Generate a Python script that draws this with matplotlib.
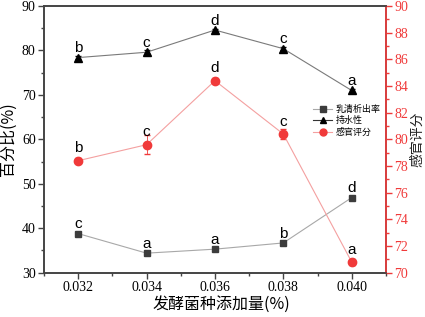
import matplotlib
matplotlib.use("Agg")
import matplotlib.pyplot as plt
from matplotlib.ticker import MultipleLocator
from matplotlib.lines import Line2D

plt.rcParams['font.family'] = 'Liberation Serif'

# data
dose = [0.032, 0.034, 0.036, 0.038, 0.040]
whey = [38.8, 34.4, 35.3, 36.7, 46.9]
whey_err = [0.4, 0.4, 0.3, 0.3, 0.4]
whey_sig = ['c', 'a', 'a', 'b', 'd']
water = [78.4, 79.6, 84.6, 80.4, 71.0]
water_err = [0.4, 0.5, 0.3, 0.3, 0.4]
water_sig = ['b', 'c', 'd', 'c', 'a']
sensory = [78.4, 79.6, 84.4, 80.4, 70.8]
sensory_err = [0.2, 0.7, 0.2, 0.35, 0.25]
sensory_sig = ['b', 'c', 'd', 'c', 'a']
names = ['乳清析出率', '持水性', '感官评分']

red = '#f03a3a'
cjk = ['Noto Sans CJK SC', 'Liberation Serif']

fig = plt.figure(figsize=(4.25, 3.17), dpi=100)
ax = fig.add_axes([0.1035, 0.1397, 0.8045, 0.8413])
ax2 = ax.twinx()

ax.errorbar(dose, whey, yerr=whey_err, color='#a8a8a8', lw=0.8, marker='s', ms=5,
            mfc='#3c3c3c', mec='#3c3c3c', ecolor='#3c3c3c', elinewidth=0.6, capsize=2)
ax.errorbar(dose, water, yerr=water_err, color='#7a7a7a', lw=0.8, marker='^', ms=6,
            mfc='black', mec='black', ecolor='black', elinewidth=0.6, capsize=2)
ax2.errorbar(dose, sensory, yerr=sensory_err, color='#f4a0a0', lw=0.8, marker='o', ms=6,
             mfc=red, mec=red, ecolor=red, elinewidth=0.6, capsize=2)

for x, y, s in zip(dose, whey, whey_sig):
    ax.text(x, y + 0.5, s, ha='center', va='bottom', fontsize=11, family='Liberation Sans')
for x, y, s in zip(dose, water, water_sig):
    ax.text(x, y + 0.5, s, ha='center', va='bottom', fontsize=11, family='Liberation Sans')
for x, y, s in zip(dose, sensory, sensory_sig):
    ax2.text(x, y + 0.4, s, ha='center', va='bottom', fontsize=11, family='Liberation Sans')

ax.set_xlim(0.031, 0.041)
ax.set_ylim(30, 90)
ax2.set_ylim(70, 90)
ax.set_xticks(dose)
ax.set_xticklabels(['0.032', '0.034', '0.036', '0.038', '0.040'])
ax.xaxis.set_minor_locator(MultipleLocator(0.001))
ax.yaxis.set_major_locator(MultipleLocator(10))
ax.yaxis.set_minor_locator(MultipleLocator(5))
ax2.yaxis.set_major_locator(MultipleLocator(2))
ax2.yaxis.set_minor_locator(MultipleLocator(1))

for a in (ax, ax2):
    a.tick_params(which='both', direction='out', labelsize=10, pad=2)
    a.tick_params(which='major', length=4, width=1)
    a.tick_params(which='minor', length=2.5, width=1)
    for sp in a.spines.values():
        sp.set_linewidth(1.2)
        sp.set_color('#444444')
ax2.spines['right'].set_color(red)
ax2.tick_params(axis='y', which='both', colors=red, labelcolor=red)
ax.tick_params(axis='both', which='both', colors='#444444', labelcolor='black')

ax.set_xlabel('发酵菌种添加量(%)', fontsize=11.5, family=cjk)
ax.xaxis.set_label_coords(0.52, -0.085)
ax.set_ylabel('百分比(%)', fontsize=11.5, family=cjk)
ax.yaxis.set_label_coords(-0.08, 0.5)
ax2.set_ylabel('感官评分', fontsize=10, color='#222222', rotation=90, family=cjk)
ax2.yaxis.set_label_coords(1.07, 0.5)

handles = [
    Line2D([], [], color='#a8a8a8', lw=0.8, marker='s', ms=4, mfc='#3c3c3c', mec='#3c3c3c'),
    Line2D([], [], color='#333333', lw=0.8, marker='^', ms=5, mfc='black', mec='black'),
    Line2D([], [], color='#f4a0a0', lw=0.8, marker='o', ms=5, mfc=red, mec=red),
]


def add_legend(size):
    return ax.legend(handles, names, loc='upper left', bbox_to_anchor=(0.785, 0.632),
                     frameon=False, handlelength=2.1, labelspacing=0.25, borderpad=0.1,
                     handletextpad=0.4, borderaxespad=0, prop={'family': cjk, 'size': size})


# size the legend so its first label is about 45 px wide, as in the reference
leg = add_legend(7)
fig.canvas.draw()
w = leg.get_texts()[0].get_window_extent().width
leg.remove()
add_legend(7 * 45 / w)

fig.savefig('out.png', dpi=100)
